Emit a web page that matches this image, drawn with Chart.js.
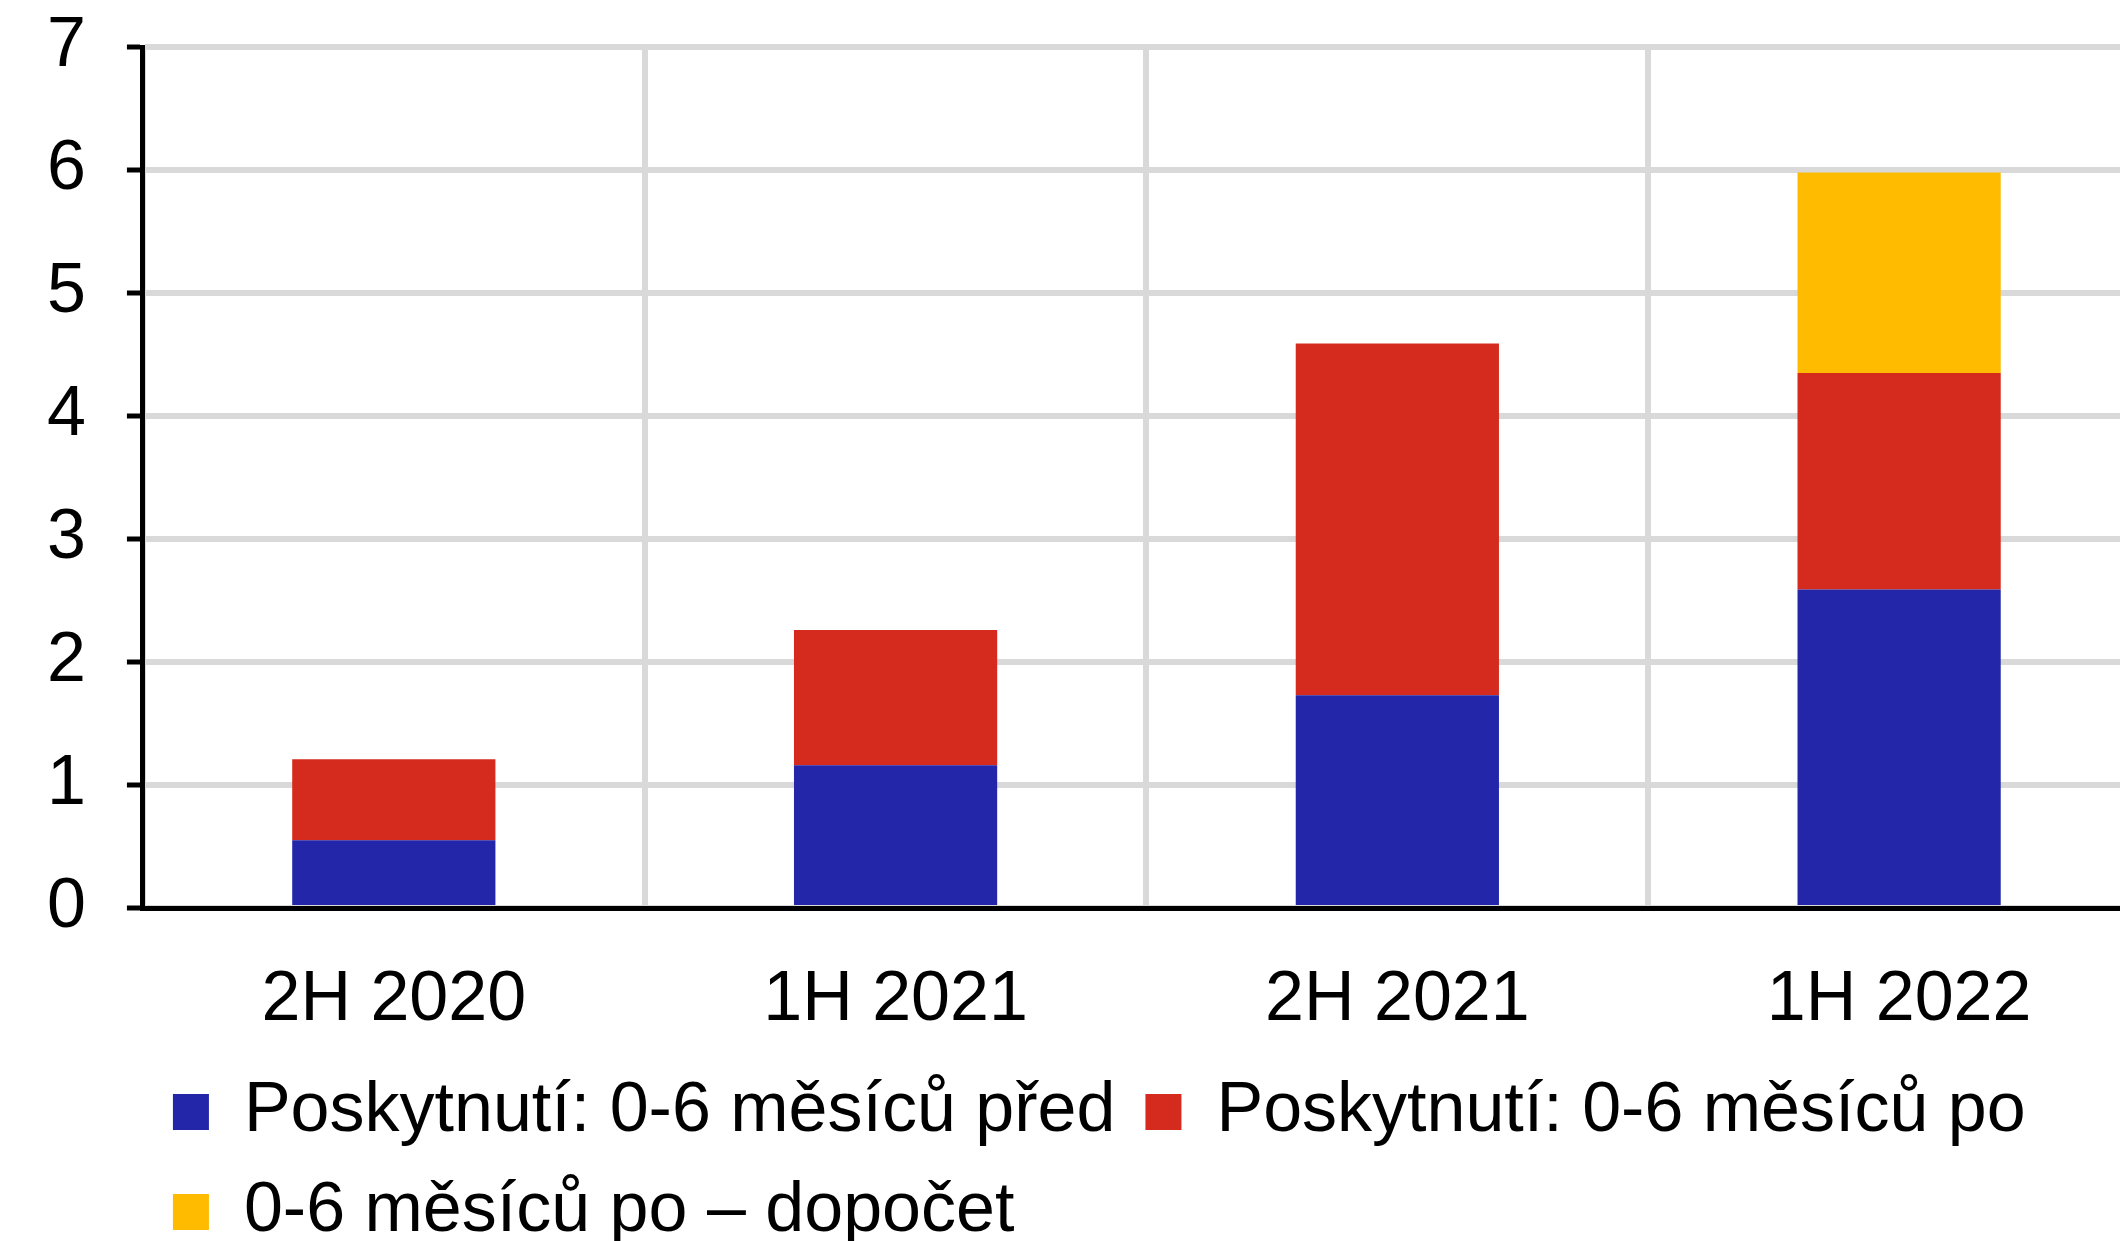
<!DOCTYPE html>
<html>
<head>
<meta charset="utf-8">
<script src="https://cdn.jsdelivr.net/npm/chart.js@4"></script>
<style>
  html, body { margin: 0; padding: 0; background: #fff; overflow: hidden; }
  #frame { width: 2120px; height: 1241px; overflow: hidden; position: relative; }
  #wrap { width: 2152px; height: 1257px; position: absolute; left: 0; top: 0; }
</style>
</head>
<body>
<div id="frame"><div id="wrap"><canvas id="chart"></canvas></div></div>
<script>
const categories = ['2H 2020', '1H 2021', '2H 2021', '1H 2022'];
const seriesNames = [
  'Poskytnutí: 0-6 měsíců před',
  'Poskytnutí: 0-6 měsíců po',
  '0-6 měsíců po – dopočet'
];
const beforeValues = [0.55, 1.16, 1.73, 2.59];
const afterValues = [0.66, 1.10, 2.86, 1.76];
const estimateValues = [null, null, null, 1.63];
const yTicks = [0, 1, 2, 3, 4, 5, 6, 7];

const FONT = "'Liberation Sans', Arial, sans-serif";

function barSet(label, data, color) {
  return {
    label: label,
    data: data,
    backgroundColor: color,
    borderWidth: 0,
    barPercentage: 0.405,
    categoryPercentage: 1.0
  };
}

new Chart(document.getElementById('chart').getContext('2d'), {
  type: 'bar',
  data: {
    labels: categories,
    datasets: [
      barSet(seriesNames[0], beforeValues, '#2326a8'),
      barSet(seriesNames[1], afterValues, '#d52b1f'),
      barSet(seriesNames[2], estimateValues, '#ffbb00')
    ]
  },
  options: {
    responsive: true,
    maintainAspectRatio: false,
    animation: false,
    layout: { padding: { top: 47, left: 6, right: 2, bottom: 0 } },
    scales: {
      x: {
        stacked: true,
        grid: { color: '#d9d9d9', lineWidth: 6, drawTicks: false, offset: true },
        border: { color: '#000', width: 5 },
        ticks: { color: '#000', padding: 51, font: { family: FONT, size: 70 } },
        // axis band below the plot: labels plus their gap only
        afterFit: axis => { axis.height = 139; axis.paddingLeft = 0; axis.paddingRight = 0; }
      },
      y: {
        stacked: true,
        min: 0,
        max: 7,
        afterBuildTicks: axis => { axis.ticks = yTicks.map(v => ({ value: v })); },
        afterFit: axis => { axis.paddingTop = 0; axis.paddingBottom = 0; },
        grid: { color: '#d9d9d9', lineWidth: 6, tickColor: '#000', tickWidth: 5, tickLength: 16 },
        border: { color: '#000', width: 5 },
        ticks: { color: '#000', padding: 41, font: { family: FONT, size: 70 } }
      }
    },
    plugins: {
      legend: {
        position: 'bottom',
        align: 'start',
        fullSize: false,
        labels: {
          color: '#000',
          boxWidth: 36,
          boxHeight: 36,
          padding: 30,
          font: { family: FONT, size: 70 }
        }
      },
      tooltip: { enabled: false }
    }
  }
});
</script>
</body>
</html>
